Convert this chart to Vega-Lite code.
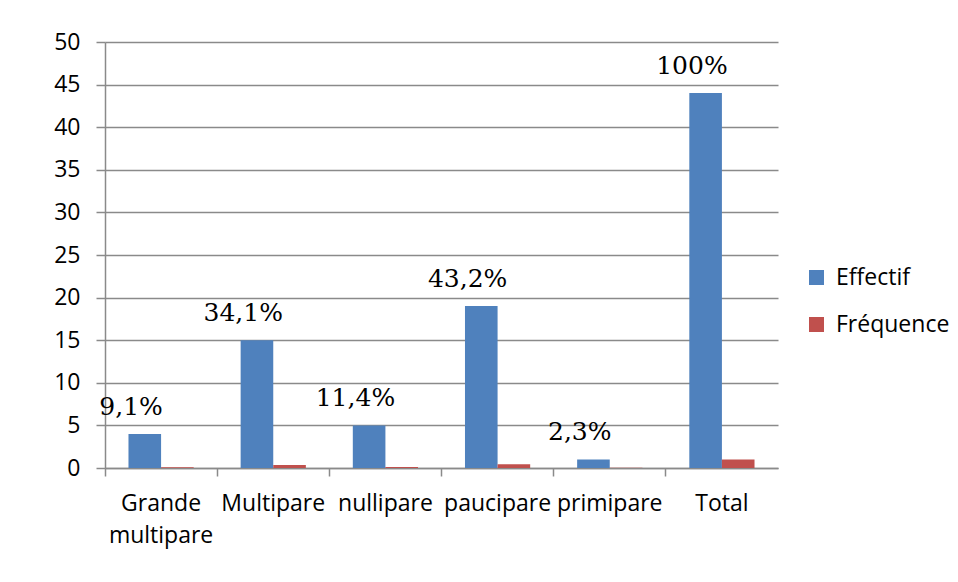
{
  "$schema": "https://vega.github.io/schema/vega-lite/v6.json",
  "width": 673,
  "height": 426,
  "autosize": {"type": "none"},
  "padding": {"left": 105, "top": 42, "right": 180, "bottom": 114},
  "background": "white",
  "config": {
    "view": {"stroke": null},
    "font": "Open Sans",
    "axis": {
      "labelFont": "Open Sans",
      "labelFontSize": 23,
      "labelColor": "#000000",
      "domainColor": "#8a8a8a",
      "domainWidth": 1.5,
      "tickColor": "#8a8a8a",
      "tickWidth": 1.5,
      "gridColor": "#8a8a8a",
      "gridWidth": 1.5
    }
  },
  "data": {
    "values": [
      {"cat": "Grande multipare", "serie": "Effectif", "value": 4, "label": "9,1%"},
      {"cat": "Grande multipare", "serie": "Fréquence", "value": 0.091, "label": ""},
      {"cat": "Multipare", "serie": "Effectif", "value": 15, "label": "34,1%"},
      {"cat": "Multipare", "serie": "Fréquence", "value": 0.341, "label": ""},
      {"cat": "nullipare", "serie": "Effectif", "value": 5, "label": "11,4%"},
      {"cat": "nullipare", "serie": "Fréquence", "value": 0.114, "label": ""},
      {"cat": "paucipare", "serie": "Effectif", "value": 19, "label": "43,2%"},
      {"cat": "paucipare", "serie": "Fréquence", "value": 0.432, "label": ""},
      {"cat": "primipare", "serie": "Effectif", "value": 1, "label": "2,3%"},
      {"cat": "primipare", "serie": "Fréquence", "value": 0.023, "label": ""},
      {"cat": "Total", "serie": "Effectif", "value": 44, "label": "100%"},
      {"cat": "Total", "serie": "Fréquence", "value": 1, "label": ""}
    ]
  },
  "encoding": {
    "x": {
      "field": "cat",
      "type": "nominal",
      "sort": null,
      "scale": {"paddingInner": 0, "paddingOuter": 0},
      "axis": {
        "title": null,
        "labelAngle": 0,
        "bandPosition": 0,
        "tickSize": 8,
        "labelPadding": 16,
        "labelBaseline": "top",
        "labelLineHeight": 32,
        "labelExpr": "datum.label == 'Grande multipare' ? ['Grande', 'multipare'] : datum.label"
      }
    }
  },
  "layer": [
    {
      "mark": {"type": "bar"},
      "encoding": {
        "xOffset": {
          "field": "serie",
          "type": "nominal",
          "scale": {"paddingInner": 0, "paddingOuter": 0.72}
        },
        "y": {
          "field": "value",
          "type": "quantitative",
          "scale": {"domain": [0, 50]},
          "axis": {
            "title": null,
            "values": [0, 5, 10, 15, 20, 25, 30, 35, 40, 45, 50],
            "tickSize": 9,
            "labelPadding": 16,
            "grid": true
          }
        },
        "color": {
          "field": "serie",
          "type": "nominal",
          "scale": {"domain": ["Effectif", "Fréquence"], "range": ["#4F81BD", "#C0504D"]},
          "legend": {
            "title": null,
            "orient": "none",
            "legendX": 700,
            "legendY": 224,
            "padding": 0,
            "symbolType": "square",
            "symbolSize": 225,
            "symbolStrokeWidth": 0,
            "labelFont": "Open Sans",
            "labelFontSize": 23,
            "labelColor": "#000000",
            "labelOffset": 8,
            "rowPadding": 23
          }
        }
      }
    },
    {
      "transform": [{"filter": "datum.cat == 'Total' && datum.serie == 'Effectif'"}],
      "mark": {"type": "rule", "color": "#8a8a8a", "strokeWidth": 1.5},
      "encoding": {
        "x": {"field": "cat", "type": "nominal", "sort": null, "bandPosition": 1},
        "y": {"datum": 0},
        "y2": {"datum": 0},
        "y2Offset": 8
      }
    },
    {
      "transform": [{"filter": "datum.serie == 'Effectif'"}],
      "mark": {
        "type": "text",
        "font": "DejaVu Serif",
        "fontSize": 25,
        "baseline": "alphabetic",
        "align": "center",
        "dx": -30,
        "dy": -19,
        "color": "#000000"
      },
      "encoding": {
        "y": {"field": "value", "type": "quantitative"},
        "text": {"field": "label", "type": "nominal"}
      }
    }
  ]
}
